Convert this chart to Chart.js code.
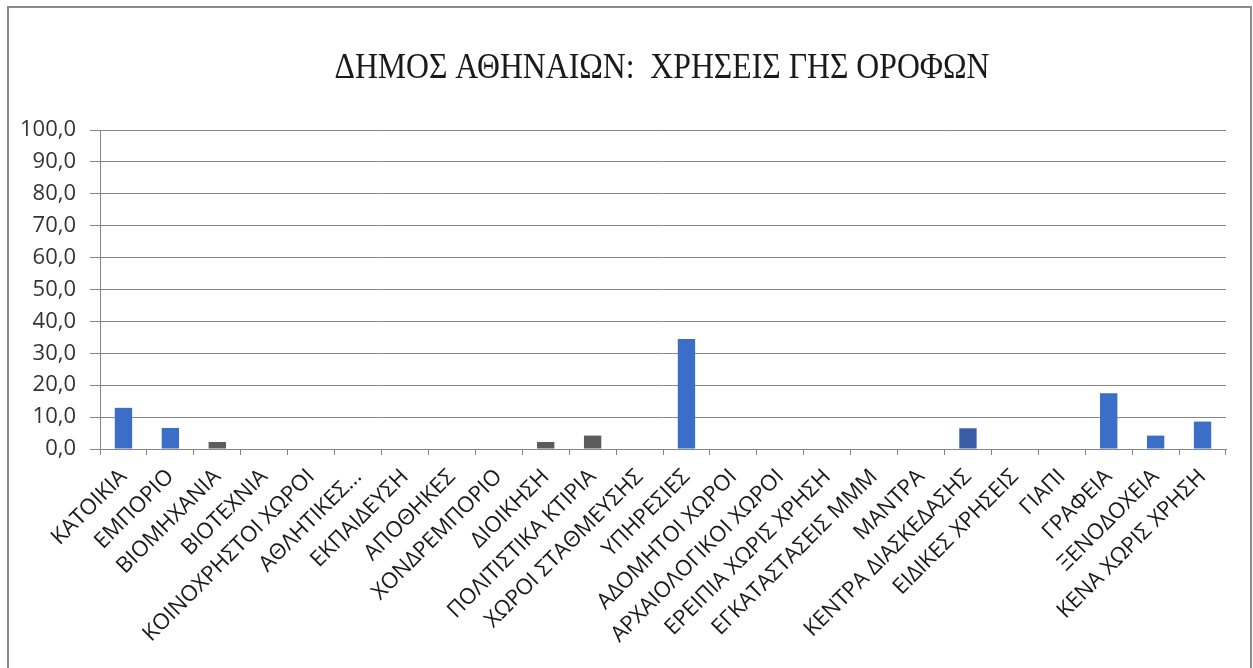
<!DOCTYPE html>
<html>
<head>
<meta charset="utf-8">
<script src="https://cdn.jsdelivr.net/npm/chart.js@4.4.1/dist/chart.umd.min.js"></script>
<style>
  html, body { margin: 0; padding: 0; background: #ffffff; }
  #wrap { width: 1253px; height: 668px; }
</style>
</head>
<body>
<div id="wrap"><canvas id="c" width="1253" height="668"></canvas></div>
<script>
const chartTitle = 'ΔΗΜΟΣ ΑΘΗΝΑΙΩΝ:  ΧΡΗΣΕΙΣ ΓΗΣ ΟΡΟΦΩΝ';

const categories = [
  'ΚΑΤΟΙΚΙΑ', 'ΕΜΠΟΡΙΟ', 'ΒΙΟΜΗΧΑΝΙΑ', 'ΒΙΟΤΕΧΝΙΑ', 'ΚΟΙΝΟΧΡΗΣΤΟΙ ΧΩΡΟΙ',
  'ΑΘΛΗΤΙΚΕΣ...', 'ΕΚΠΑΙΔΕΥΣΗ', 'ΑΠΟΘΗΚΕΣ', 'ΧΟΝΔΡΕΜΠΟΡΙΟ', 'ΔΙΟΙΚΗΣΗ',
  'ΠΟΛΙΤΙΣΤΙΚΑ ΚΤΙΡΙΑ', 'ΧΩΡΟΙ ΣΤΑΘΜΕΥΣΗΣ', 'ΥΠΗΡΕΣΙΕΣ', 'ΑΔΟΜΗΤΟΙ ΧΩΡΟΙ',
  'ΑΡΧΑΙΟΛΟΓΙΚΟΙ ΧΩΡΟΙ', 'ΕΡΕΙΠΙΑ ΧΩΡΙΣ ΧΡΗΣΗ', 'ΕΓΚΑΤΑΣΤΑΣΕΙΣ ΜΜΜ', 'ΜΑΝΤΡΑ',
  'ΚΕΝΤΡΑ ΔΙΑΣΚΕΔΑΣΗΣ', 'ΕΙΔΙΚΕΣ ΧΡΗΣΕΙΣ', 'ΓΙΑΠΙ', 'ΓΡΑΦΕΙΑ', 'ΞΕΝΟΔΟΧΕΙΑ',
  'ΚΕΝΑ ΧΩΡΙΣ ΧΡΗΣΗ'
];

const shares = [
  12.9, 6.6, 2.2, 0, 0,
  0, 0, 0, 0, 2.2,
  4.2, 0, 34.5, 0,
  0, 0, 0, 0,
  6.5, 0, 0, 17.5, 4.2,
  8.6
];

const yMin = 0;
const yMax = 100;
const yStep = 10;

// styles (kept apart from the data)
const BLUE = '#3b6ec6';
const GREY = '#5c5c5c';
const NAVY = '#3a5ca6';
const barColors = categories.map((c, i) => {
  if (i === 2 || i === 9 || i === 10) return GREY;
  if (i === 18) return NAVY;
  return BLUE;
});

const framePlugin = {
  id: 'frame',
  beforeDraw(chart) {
    const ctx = chart.ctx;
    ctx.save();
    ctx.fillStyle = '#ffffff';
    ctx.fillRect(0, 0, chart.width, chart.height);
    ctx.strokeStyle = '#8a8a8a';
    ctx.lineWidth = 2;
    ctx.beginPath();
    ctx.moveTo(8, chart.height);
    ctx.lineTo(8, 7);
    ctx.lineTo(1251, 7);
    ctx.lineTo(1251, chart.height);
    ctx.stroke();
    ctx.restore();
  },
  afterDraw(chart) {
    const ctx = chart.ctx;
    ctx.save();
    ctx.fillStyle = '#1a1a1a';
    ctx.font = '36px "Liberation Serif", "DejaVu Serif", serif';
    ctx.textAlign = 'center';
    ctx.textBaseline = 'middle';
    const w = ctx.measureText(chartTitle).width;
    const sx = 655 / w;
    ctx.translate(662, 69);
    ctx.scale(sx, 1);
    ctx.fillText(chartTitle, 0, 0);
    ctx.restore();
  }
};

new Chart(document.getElementById('c'), {
  type: 'bar',
  data: {
    labels: categories,
    datasets: [{
      data: shares,
      backgroundColor: barColors,
      borderWidth: 0,
      barPercentage: 0.37,
      categoryPercentage: 1.0
    }]
  },
  options: {
    responsive: false,
    animation: false,
    events: [],
    layout: { padding: { left: 8, right: 27, top: 130, bottom: 0 } },
    plugins: {
      legend: { display: false },
      title: { display: false },
      tooltip: { enabled: false }
    },
    scales: {
      x: {
        offset: true,
        grid: {
          offset: true,
          drawOnChartArea: false,
          drawTicks: true,
          tickLength: 6,
          color: '#868686',
          lineWidth: 1
        },
        border: { display: true, color: '#868686', width: 1 },
        ticks: {
          autoSkip: false,
          maxRotation: 45,
          minRotation: 45,
          padding: 9,
          color: '#1a1a1a',
          font: { family: '"Open Sans", "Noto Sans", sans-serif', size: 22 }
        },
        afterFit(scale) { scale.height = 668 - 449; }
      },
      y: {
        min: yMin,
        max: yMax,
        ticks: {
          stepSize: yStep,
          padding: 14,
          color: '#333333',
          font: { family: '"Open Sans", "Noto Sans", sans-serif', size: 22 },
          callback: (v) => Number(v).toFixed(1).replace('.', ',')
        },
        grid: {
          color: '#868686',
          lineWidth: 1,
          tickLength: 10,
          drawTicks: true
        },
        border: { display: true, color: '#868686', width: 1 },
        afterFit(scale) { scale.width = 100 - 8; }
      }
    }
  },
  plugins: [framePlugin]
});
</script>
</body>
</html>
